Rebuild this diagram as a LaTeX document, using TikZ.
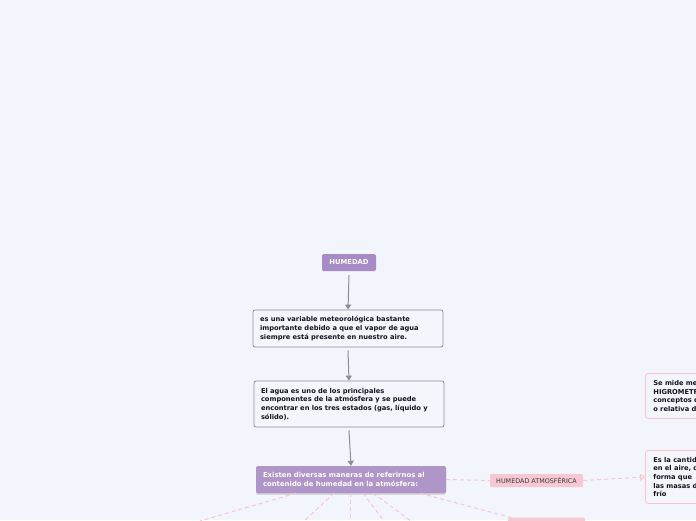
\documentclass[tikz,border=0pt]{standalone}
\usepackage{fontspec}
\setmainfont{DejaVu Sans}
\usetikzlibrary{arrows.meta,shadows}
\definecolor{bgc}{RGB}{243,245,253}
\definecolor{purp}{RGB}{166,139,200}
\definecolor{purp2}{RGB}{176,149,200}
\definecolor{grayline}{RGB}{140,140,150}
\definecolor{boxfill}{RGB}{245,246,252}
\definecolor{pinkline}{RGB}{249,196,208}
\definecolor{pinkfill}{RGB}{248,200,210}
\definecolor{textc}{RGB}{20,20,30}
\tikzset{
  topic/.style={rectangle, rounded corners=1.5pt, fill=purp, text=white, font=\fontsize{6.8}{8}\selectfont\bfseries, minimum width=54pt, minimum height=17pt, inner sep=0pt},
  graybox/.style={rectangle, rounded corners=2pt, draw=grayline, line width=0.8pt, fill=boxfill, text=textc, font=\fontsize{6.7}{8.6}\selectfont\bfseries, align=left, text width=176pt, inner xsep=7pt, inner ysep=0pt, minimum width=190pt},
  purplebox/.style={rectangle, rounded corners=2pt, fill=purp2, text=white, font=\fontsize{6.9}{9}\selectfont\bfseries, align=left, text width=176pt, inner xsep=7pt, inner ysep=0pt, minimum width=190pt, minimum height=27pt, drop shadow={shadow xshift=0pt, shadow yshift=-1.5pt, opacity=0.35}},
  pinklabel/.style={rectangle, rounded corners=1pt, fill=pinkfill, text=textc!85, font=\fontsize{6.4}{7}\selectfont, minimum width=93pt, minimum height=13pt, inner sep=0pt},
  pinkbox/.style={rectangle, rounded corners=3pt, draw=pinkline, line width=0.8pt, fill=boxfill, text=textc, font=\fontsize{6.7}{8.6}\selectfont\bfseries, align=left, inner xsep=8pt, inner ysep=0pt, anchor=north west},
  grayarrow/.style={draw=grayline, line width=1pt, -{Triangle[width=6pt,length=5pt]}},
  pinkdash/.style={draw=pinkline, line width=1pt, dash pattern=on 4pt off 3pt},
  pinkarrow/.style={pinkdash, -{Triangle[width=7pt,length=5pt,open]}}
}
\begin{document}
\begin{tikzpicture}[x=1pt,y=-1pt]
\fill[bgc] (0,0) rectangle (696,520);
\useasboundingbox (0,0) rectangle (696,520);

\node[topic] (hum) at (349,262.5) {HUMEDAD};
\node[graybox, minimum height=37pt] (b2) at (348,328.5) {es una variable meteorológica bastante\\importante debido a que el vapor de agua\\siempre está presente en nuestro aire.};
\node[graybox, minimum height=46pt] (b3) at (349,404) {El agua es uno de los principales\\componentes de la atmósfera y se puede\\encontrar en los tres estados (gas, líquido y\\sólido).};
\node[purplebox] (b4) at (351,479.5) {Existen diversas maneras de referirnos al\\contenido de humedad en la atmósfera:};

\node[pinklabel] (lab) at (536.5,480.5) {HUMEDAD ATMOSFÉRICA};
\node[pinkbox, minimum height=45pt, text width=200pt] (r1) at (645,373) {Se mide mediante el\\HIGROMETRO. Existen\\conceptos de humedad absoluta\\o relativa del aire.};
\node[pinkbox, minimum height=53pt, text width=200pt] (r2) at (645,450) {Es la cantidad de vapor de agua\\en el aire, de tal\\forma que\\las masas de aire\\frío};
\node[rectangle, rounded corners=1pt, fill=pinkfill, minimum width=77pt, minimum height=13pt, inner sep=0pt, anchor=north west] (b5) at (508,517.5) {};

\draw[grayarrow] (hum.south) ++(0,4) coordinate (h1) -- (b2.north);
\draw[grayarrow] ([yshift=-3pt]b2.south) -- (b3.north);
\draw[grayarrow] ([yshift=-3pt]b3.south) -- (b4.north);

\draw[pinkdash] (b4.east) -- (lab.west);
\draw[pinkarrow] (lab.east) -- (r2.west);

\coordinate (e1) at (200,521);
\coordinate (e2) at (304,521);
\coordinate (e3) at (350,521);
\coordinate (e4) at (384,521);
\coordinate (e5) at (411,521);
\draw[pinkdash] ([xshift=-55pt]b4.south) -- (e1);
\draw[pinkdash] ([xshift=-17pt]b4.south) -- (e2);
\draw[pinkdash] ([xshift=-1pt]b4.south) -- (e3);
\draw[pinkdash] ([xshift=12pt]b4.south) -- (e4);
\draw[pinkdash] ([xshift=22pt]b4.south) -- (e5);
\draw[pinkdash] ([xshift=69pt]b4.south) -- ([xshift=3pt]b5.north west);
\end{tikzpicture}
\end{document}
